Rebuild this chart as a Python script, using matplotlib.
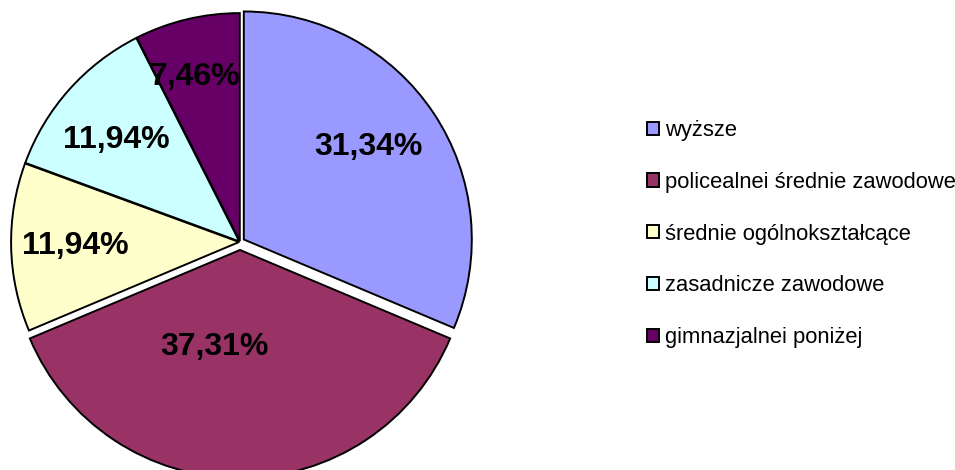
import numpy as np
import matplotlib.pyplot as plt

plt.rcParams['font.family'] = ['Liberation Sans', 'DejaVu Sans']

labels = ['wyższe', 'policealnei średnie zawodowe', 'średnie ogólnokształcące',
          'zasadnicze zawodowe', 'gimnazjalnei poniżej']
values = [31.34, 37.31, 11.94, 11.94, 7.46]
pct_labels = ['31,34%', '37,31%', '11,94%', '11,94%', '7,46%']
colors = ['#9999FF', '#993366', '#FFFFCC', '#CCFFFF', '#660066']
explode = [0.02, 0.035, 0.004, 0.004, 0.004]

# where each percent label sits (fraction of radius, angle nudge in degrees)
label_dist = [0.68, 0.44, 0.72, 0.70, 0.745]
label_nudge = [3, -15, 0, 2, 2]

fig = plt.figure(figsize=(9.55, 4.7), dpi=100)
ax = fig.add_axes([12 / 955, 0, 456 / 955, 456 / 470])

wedges, _ = ax.pie(values, colors=colors, explode=explode, startangle=90,
                   counterclock=False,
                   wedgeprops=dict(edgecolor='black', linewidth=1.4))
ax.set_xlim(-1, 1)
ax.set_ylim(-1, 1)
ax.set_aspect('equal')
for w in wedges:
    w.set_clip_on(False)

for w, txt, d, nudge in zip(wedges, pct_labels, label_dist, label_nudge):
    mid = np.deg2rad((w.theta1 + w.theta2) / 2)
    ang = mid + np.deg2rad(nudge)
    cx, cy = w.center
    ax.text(cx + d * np.cos(ang), cy + d * np.sin(ang), txt,
            ha='center', va='center', fontsize=23, fontweight='bold',
            color='black', clip_on=False)

leg = fig.legend(wedges, labels, loc='center left',
                 bbox_to_anchor=(647 / 955, (470 - 234) / 470),
                 frameon=False, fontsize=15.8, handlelength=0.55,
                 handleheight=0.55, handletextpad=0.25, labelspacing=1.4,
                 borderpad=0, borderaxespad=0)
for h in leg.legend_handles:
    h.set_linewidth(1.4)

fig.savefig('out.png', dpi=100)
